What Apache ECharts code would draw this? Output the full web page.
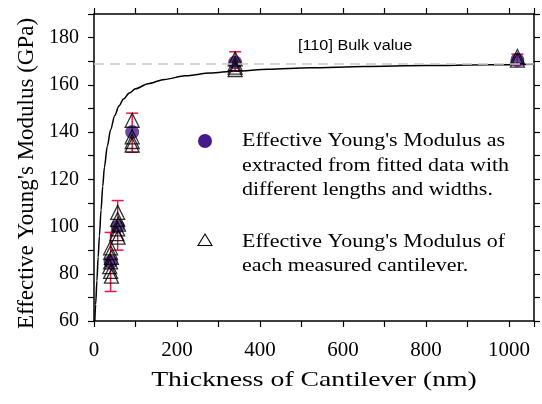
<!DOCTYPE html>
<html>
<head>
    <meta charset="utf-8">
    <title>Effective Young's Modulus vs Thickness</title>
    <script type="text/javascript" src="https://cdn.jsdelivr.net/npm/echarts@6/dist/echarts.min.js"></script>
    <style>
        html, body { margin: 0; padding: 0; background: #fff; }
    </style>
</head>
<body>
<div id="container" style="width: 542px; height: 404px"></div>
<script type="text/javascript">
    // fitted curve (thickness nm, modulus GPa)
    var fitCurve = [
        [2, 60], [4, 67], [7, 77], [10, 87], [13, 96], [17, 107], [21, 117], [25, 125],
        [32, 134], [40, 141], [50, 147], [60, 151], [71, 154], [85, 156.5], [100, 158.3],
        [130, 160.5], [170, 162.3], [220, 163.8], [280, 165], [340, 165.8], [420, 166.6],
        [520, 167.2], [650, 167.8], [800, 168.2], [950, 168.5], [1060, 168.7]
    ];
    // fitted values (filled circles) with error bar ends
    var fittedX = [40, 57, 92, 340, 1020];
    var fittedY = [85, 100, 140, 169.5, 170.5];
    var errLow = [72.5, 90, 131.5, 166, 168.5];
    var errHigh = [97.5, 111, 148, 174, 173];
    // each measured cantilever (hollow triangles)
    var measured = [
        [40, 91], [40, 89], [42, 87], [40, 85], [38, 83], [40, 81], [42, 79],
        [57, 106], [57, 103], [59, 101], [57, 99], [55, 97], [58, 95.5],
        [92, 145], [92, 138], [92, 136], [92, 134.5],
        [340, 171], [340, 169], [340, 167.5], [340, 166.5],
        [1020, 172], [1020, 170.5]
    ];
    var bulkValue = 169;

    var dom = document.getElementById('container');
    var myChart = echarts.init(dom, null, {renderer: 'canvas'});

    var serif = "'Liberation Serif', 'Times New Roman', serif";
    var fitted = [];
    var errors = [];
    for (var i = 0; i < fittedX.length; i++) {
        fitted.push([fittedX[i], fittedY[i]]);
        errors.push([fittedX[i], errLow[i], errHigh[i]]);
    }

    function frameAxis(pos, isX) {
        return {
            type: 'value',
            position: pos,
            min: isX ? 0 : 60,
            max: isX ? 1060 : 190,
            interval: isX ? 100 : 10,
            axisLine: {show: true, onZero: false, lineStyle: {color: '#000', width: 1.5}},
            axisTick: {show: true, inside: false, length: 6, lineStyle: {color: '#000', width: 1.2}},
            splitLine: {show: false},
            axisLabel: {show: false}
        };
    }

    var xBottom = frameAxis('bottom', true);
    xBottom.axisLabel = {
        show: true, margin: 19, color: '#000', fontFamily: serif, fontSize: 21,
        formatter: function (v) { return (v % 200 === 0) ? v : ''; }
    };

    var yLeft = frameAxis('left', false);
    yLeft.axisLabel = {
        show: true, margin: 15, color: '#000', fontFamily: serif, fontSize: 20,
        formatter: function (v) { return (v % 20 === 0) ? v : ''; }
    };
    yLeft.name = "Effective Young's Modulus (GPa)";
    yLeft.nameLocation = 'middle';
    yLeft.nameGap = 56;
    yLeft.nameTextStyle = {color: '#000', fontFamily: serif, fontSize: 23, padding: [0, 12, 0, 0]};

    // the reference type is horizontally stretched, so texts get a scaleX
    function label(txt, x, y, font, sx, align, lh) {
        return {
            type: 'text', x: x, y: y, scaleX: sx, silent: true,
            style: {text: txt, fill: '#000', font: font, align: align || 'left',
                verticalAlign: 'middle', lineHeight: lh || 20}
        };
    }

    var option = {
        animation: false,
        grid: {left: 94, right: 8, top: 14, bottom: 83},
        xAxis: [xBottom, frameAxis('top', true)],
        yAxis: [yLeft, frameAxis('right', false)],
        graphic: [
            label('Thickness of Cantilever (nm)', 314, 380, '21px ' + serif, 1.32, 'center', 24),
            label('[110] Bulk value', 298, 46, "14px 'Liberation Sans', Arial, sans-serif", 1.16, 'left', 16),
            {type: 'circle', shape: {cx: 205, cy: 141, r: 7}, style: {fill: '#451a8a'}},
            label("Effective Young's Modulus as\nextracted from fitted data with\ndifferent lengths and widths.",
                242, 166, '18px ' + serif, 1.22, 'left', 24.3),
            {type: 'polygon', shape: {points: [[205, 234], [212, 245.5], [198, 245.5]]},
                style: {fill: 'none', stroke: '#000', lineWidth: 1.1}},
            label("Effective Young's Modulus of\neach measured cantilever.",
                242, 254, '18px ' + serif, 1.22, 'left', 24.3)
        ],
        series: [
            {
                name: 'fit',
                type: 'line',
                data: fitCurve,
                smooth: 0.3,
                smoothMonotone: 'x',
                showSymbol: false,
                lineStyle: {color: '#000', width: 1.5},
                markLine: {
                    silent: true,
                    symbol: ['none', 'none'],
                    label: {show: false},
                    lineStyle: {color: '#d4c3c3', width: 1.5, type: [10, 6]},
                    data: [{yAxis: bulkValue}]
                },
                z: 1
            },
            {
                name: 'error',
                type: 'custom',
                data: errors,
                renderItem: function (params, api) {
                    var x = api.value(0);
                    var lo = api.coord([x, api.value(1)]);
                    var hi = api.coord([x, api.value(2)]);
                    var w = 6;
                    var st = {stroke: '#e3194b', lineWidth: 1.5};
                    return {
                        type: 'group',
                        children: [
                            {type: 'line', shape: {x1: lo[0], y1: lo[1], x2: hi[0], y2: hi[1]}, style: st},
                            {type: 'line', shape: {x1: lo[0] - w, y1: lo[1], x2: lo[0] + w, y2: lo[1]}, style: st},
                            {type: 'line', shape: {x1: hi[0] - w, y1: hi[1], x2: hi[0] + w, y2: hi[1]}, style: st}
                        ]
                    };
                },
                z: 2
            },
            {
                name: 'fitted',
                type: 'scatter',
                data: fitted,
                symbol: 'circle',
                symbolSize: 14,
                itemStyle: {color: '#451a8a'},
                z: 3
            },
            {
                name: 'measured',
                type: 'scatter',
                data: measured,
                symbol: 'triangle',
                symbolSize: 14,
                itemStyle: {color: 'rgba(0,0,0,0)', borderColor: '#000', borderWidth: 1.3},
                z: 4
            }
        ]
    };

    myChart.setOption(option);
    window.addEventListener('resize', myChart.resize);
</script>
</body>
</html>
